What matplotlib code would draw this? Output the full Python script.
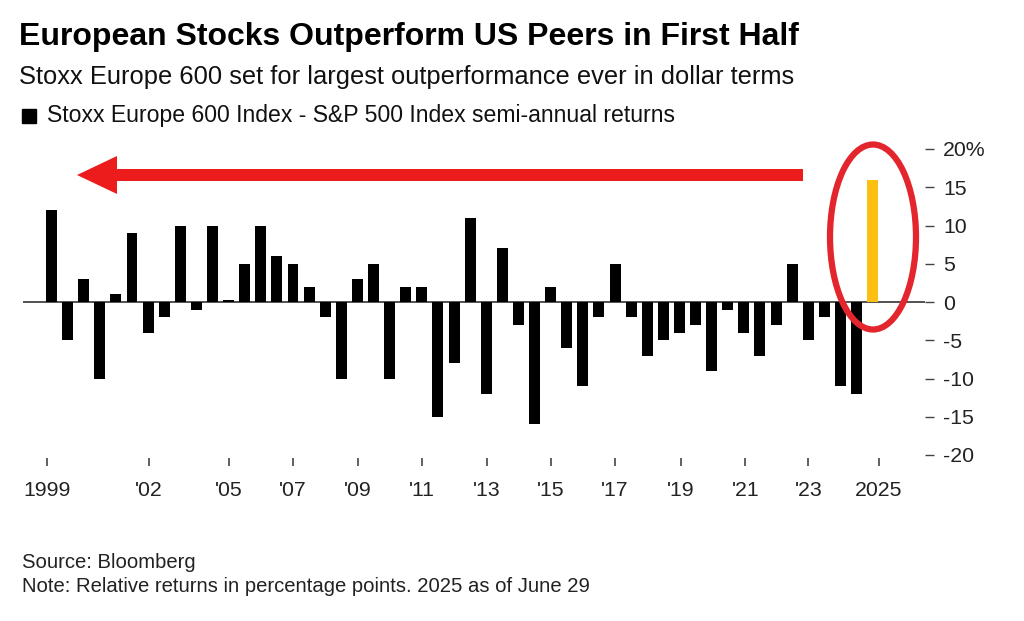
import numpy as np
import matplotlib
matplotlib.use('Agg')
import matplotlib.pyplot as plt
from matplotlib.patches import FancyArrow, Ellipse, Rectangle

plt.rcParams['font.family'] = ['Liberation Sans', 'DejaVu Sans']

# Stoxx 600 minus S&P 500, semi-annual relative returns (pct points), 1999 H2 .. 2025 H1
returns = [12, -5, 3, -10, 1, 9, -4, -2, 10, -1,
           10, 0.2, 5, 10, 6, 5, 2, -2, -10, 3,
           5, -10, 2, 2, -15, -8, 11, -12, 7, -3,
           -16, 2, -6, -11, -2, 5, -2, -7, -5, -4,
           -3, -9, -1, -4, -7, -3, 5, -5, -2, -11,
           -12, 16]

tick_labels = ['1999', "'02", "'05", "'07", "'09", "'11", "'13", "'15",
               "'17", "'19", "'21", "'23", '2025']
tick_pos = [-0.25, 6.05, 11.0, 15.0, 19.05, 23.0, 27.05, 31.0,
            35.0, 39.1, 43.1, 47.0, 51.4]

y_ticks = [20, 15, 10, 5, 0, -5, -10, -15, -20]
y_labels = ['20%', '15', '10', '5', '0', '-5', '-10', '-15', '-20']

W, H = 1024, 621
fig = plt.figure(figsize=(W / 100, H / 100), dpi=100)
ax = fig.add_axes([23 / W, 1 - 455 / H, (925 - 23) / W, (455 - 149) / H])

x = np.arange(len(returns))
colors = ['black'] * (len(returns) - 1) + ['#fcbf12']
ax.bar(x, returns, width=0.68, color=colors, linewidth=0, zorder=2)
ax.axhline(0, color='#333333', lw=1.2, zorder=1)

ax.set_xlim(-1.77, 54.25)
ax.set_ylim(-20, 20)
for s in ax.spines.values():
    s.set_visible(False)
ax.spines['bottom'].set_position(('outward', 2))

ax.yaxis.tick_right()
ax.set_yticks(y_ticks)
ax.set_yticklabels(y_labels)
ax.tick_params(axis='y', length=6.5, width=1, color='#444444', pad=6.5,
               labelsize=15.3, labelcolor='#222222')

ax.set_xticks(tick_pos)
ax.set_xticklabels(tick_labels)
ax.tick_params(axis='x', length=6, width=1.2, color='#444444', pad=11,
               labelsize=15.3, labelcolor='#222222')

# header
fig.text(19 / W, 1 - 45 / H, 'European Stocks Outperform US Peers in First Half',
         fontsize=23, fontweight='bold', va='baseline')
fig.text(19 / W, 1 - 84 / H, 'Stoxx Europe 600 set for largest outperformance ever in dollar terms',
         fontsize=18.4, va='baseline', color='#111111')
fig.add_artist(Rectangle((22 / 100, (H - 123) / 100), 0.14, 0.14,
                         transform=fig.dpi_scale_trans, color='black'))
fig.text(47 / W, 1 - 122 / H, 'Stoxx Europe 600 Index - S&P 500 Index semi-annual returns',
         fontsize=16.6, va='baseline', color='#111111')

# footer
fig.text(22 / W, 1 - 568 / H, 'Source: Bloomberg', fontsize=14.6, va='baseline', color='#222222')
fig.text(22 / W, 1 - 592 / H, 'Note: Relative returns in percentage points. 2025 as of June 29',
         fontsize=14.6, va='baseline', color='#222222')

# red annotations
fig.add_artist(FancyArrow(8.03, (H - 175) / 100, -7.26, 0, width=0.12,
                          head_width=0.38, head_length=0.40, length_includes_head=True,
                          transform=fig.dpi_scale_trans, color='#ec1c1c', lw=0))
fig.add_artist(Ellipse((8.73, (H - 237) / 100), 0.86, 1.85, fill=False,
                       edgecolor='#e3262d', lw=4.5, transform=fig.dpi_scale_trans))

fig.savefig('out.png', dpi=100)
